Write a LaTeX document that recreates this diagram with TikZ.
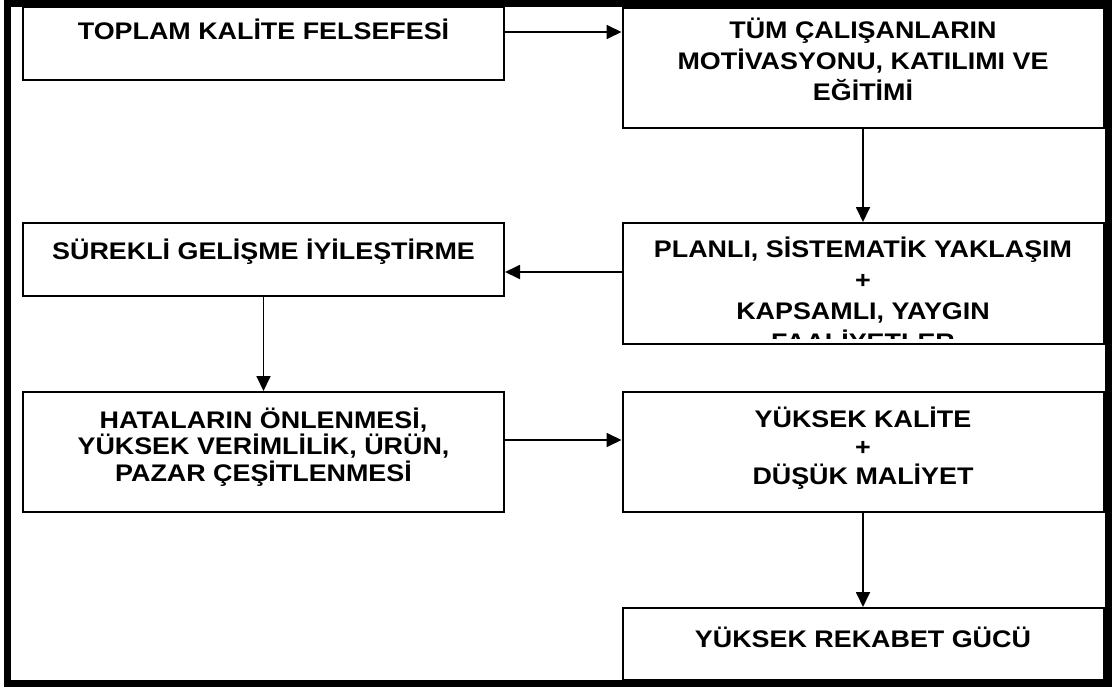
\documentclass[tikz,border=0pt]{standalone}
\usepackage{fontspec}
\usetikzlibrary{arrows.meta}
\newfontfamily\kfont{Liberation Sans Bold}[FakeStretch=1.12]
\tikzset{
  kutu/.style={draw,line width=2pt,inner sep=0pt,minimum width=481pt},
  yazi/.style={anchor=north,align=center,inner sep=0pt},
  ok/.style={line width=1.8pt,-{Triangle[length=15pt,width=14pt]}}
}

\begin{document}
\begin{tikzpicture}[x=1pt,y=-1pt]
  \useasboundingbox (0,0) rectangle (1112,686);
  % frame
  \draw[line width=7pt] (7,3.5) rectangle (1108.5,683);
  % boxes
  \node[kutu,minimum height=73pt] (felsefe) at (263.5,43.5) {};
  \node[kutu,minimum height=120pt] (egitim) at (863,68) {};
  \node[kutu,minimum height=73pt] (gelisme) at (263.5,259.5) {};
  \node[kutu,minimum height=121pt] (yaklasim) at (863,283.5) {};
  \node[kutu,minimum height=120pt] (hata) at (263.5,452) {};
  \node[kutu,minimum height=120pt] (kalite) at (863,452) {};
  \node[kutu,minimum height=72pt] (rekabet) at (863,644) {};
  % texts
  \node[yazi,font=\kfont\fontsize{24}{31}\selectfont] (felsefe yazi) at (263.5,18.5) {TOPLAM KALİTE FELSEFESİ};
  \node[yazi,font=\kfont\fontsize{24}{31}\selectfont] (egitim yazi) at (863,17.5) {TÜM ÇALIŞANLARIN\\MOTİVASYONU, KATILIMI VE\\EĞİTİMİ};
  \node[yazi,font=\kfont\fontsize{24}{31}\selectfont] (gelisme yazi) at (263.5,238.5) {SÜREKLİ GELİŞME İYİLEŞTİRME};
  \begin{scope}
    \clip (626,226) rectangle (1100,338);
    \node[yazi,font=\kfont\fontsize{24}{31}\selectfont] (yaklasim yazi) at (863,236.5) {PLANLI, SİSTEMATİK YAKLAŞIM\\+\\KAPSAMLI, YAYGIN\\FAALİYETLER};
  \end{scope}
  \node[yazi,font=\kfont\fontsize{24}{26.5}\selectfont] (hata yazi) at (263.5,407.5) {HATALARIN ÖNLENMESİ,\\YÜKSEK VERİMLİLİK, ÜRÜN,\\PAZAR ÇEŞİTLENMESİ};
  \node[yazi,font=\kfont\fontsize{24}{28.5}\selectfont] (kalite yazi) at (863,406.5) {YÜKSEK KALİTE\\+\\DÜŞÜK MALİYET};
  \node[yazi,font=\kfont\fontsize{24}{31}\selectfont] (rekabet yazi) at (863,626.5) {YÜKSEK REKABET GÜCÜ};
  % arrows
  \draw[ok] ([yshift=11.5pt]felsefe.east) -- (egitim.west |- 0,32);
  \draw[ok] (egitim.south) -- (yaklasim.north);
  \draw[ok] ([yshift=11.5pt]yaklasim.west) -- (gelisme.east |- 0,272);
  \draw[ok] (gelisme.south) -- (hata.north);
  \draw[ok] ([yshift=12pt]hata.east) -- ([yshift=12pt]kalite.west);
  \draw[ok] (kalite.south) -- (rekabet.north);
\end{tikzpicture}
\end{document}
